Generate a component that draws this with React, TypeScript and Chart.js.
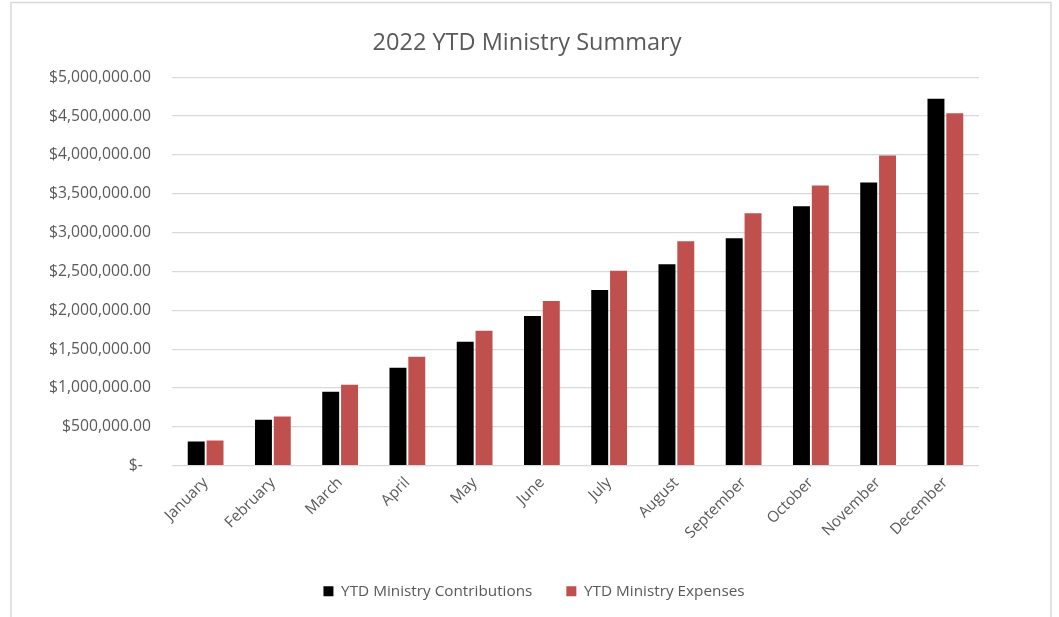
import React, { useEffect, useRef } from 'react';
import { Chart, registerables } from 'chart.js';

Chart.register(...registerables);

const months = [
  'January', 'February', 'March', 'April', 'May', 'June',
  'July', 'August', 'September', 'October', 'November', 'December',
];

const contributions = [
  312000, 590000, 953000, 1261000, 1594000, 1927000,
  2261000, 2594000, 2928000, 3338000, 3646000, 4723000,
];

const expenses = [
  324000, 632000, 1043000, 1403000, 1736000, 2120000,
  2508000, 2889000, 3248000, 3607000, 3992000, 4535000,
];

const seriesNames = ['YTD Ministry Contributions', 'YTD Ministry Expenses'];
const titleText = '2022 YTD Ministry Summary';
const yMin = 0;
const yMax = 5000000;
const yStep = 500000;

const FONT = '"Open Sans", "Noto Sans", sans-serif';
const TEXT = '#595959';
const GRID = '#d9d9d9';

function fmt(v: number): string {
  if (v === 0) return '$-  ';
  return '$' + v.toLocaleString('en-US', { minimumFractionDigits: 2, maximumFractionDigits: 2 });
}

export default function App() {
  const ref = useRef<HTMLCanvasElement>(null);

  useEffect(() => {
    if (!ref.current) return;
    const framePlugin = {
      id: 'frame',
      beforeDraw(chart: any) {
        const ctx = chart.ctx;
        ctx.save();
        ctx.fillStyle = '#ffffff';
        ctx.fillRect(0, 0, chart.width, chart.height);
        ctx.strokeStyle = GRID;
        ctx.lineWidth = 1.5;
        ctx.strokeRect(11, 2.5, 1040, 700);
        ctx.restore();
      },
    };
    const legendShift = {
      id: 'legendShift',
      afterLayout(chart: any) {
        if (chart.legend) {
          chart.legend.left += 7;
          chart.legend.right += 7;
        }
      },
    };

    const chart = new Chart(ref.current, {
      type: 'bar',
      data: {
        labels: months,
        datasets: [
          {
            label: seriesNames[0],
            data: contributions,
            backgroundColor: '#000000',
            categoryPercentage: 0.56,
            barPercentage: 0.9,
          },
          {
            label: seriesNames[1],
            data: expenses,
            backgroundColor: '#c0504d',
            categoryPercentage: 0.56,
            barPercentage: 0.9,
          },
        ],
      },
      options: {
        animation: false,
        responsive: false,
        layout: { padding: { left: 40, right: 45, top: 0, bottom: 8 } },
        plugins: {
          title: {
            display: true,
            text: titleText,
            color: TEXT,
            font: { family: FONT, size: 23.5, weight: 'normal' },
            padding: { top: 29, bottom: 20 },
          },
          legend: {
            position: 'bottom',
            labels: {
              boxWidth: 10,
              boxHeight: 10,
              padding: 34,
              color: TEXT,
              font: { family: FONT, size: 15.3 },
            },
          },
          tooltip: { enabled: false },
        },
        scales: {
          x: {
            grid: { display: false },
            border: { display: false },
            ticks: {
              color: TEXT,
              font: { family: FONT, size: 15.3 },
              minRotation: 45,
              maxRotation: 45,
              autoSkip: false,
              padding: 0,
            },
            afterFit: (s: any) => {
              s.height = 84;
            },
          },
          y: {
            min: yMin,
            max: yMax,
            ticks: {
              stepSize: yStep,
              color: TEXT,
              font: { family: FONT, size: 15.7 },
              padding: 21,
              callback: (v: any) => fmt(Number(v)),
            },
            grid: { color: GRID, lineWidth: 1.3, drawTicks: false },
            border: { display: false },
            afterFit: (s: any) => {
              s.width = 132;
            },
          },
          yRightSpacer: {
            position: 'right',
            display: true,
            min: yMin,
            max: yMax,
            grid: { display: false, drawOnChartArea: false },
            border: { display: false },
            ticks: { display: false },
            afterFit: (s: any) => {
              s.width = 35;
            },
          },
        },
      },
      plugins: [framePlugin, legendShift],
    } as any);

    return () => chart.destroy();
  }, []);

  return (
    <div style={{ position: 'fixed', left: 0, top: 0, width: 1059, height: 617, background: '#fff', overflow: 'hidden' }}>
      <canvas ref={ref} width={1059} height={617} style={{ width: '1059px', height: '617px', display: 'block' }} />
    </div>
  );
}
